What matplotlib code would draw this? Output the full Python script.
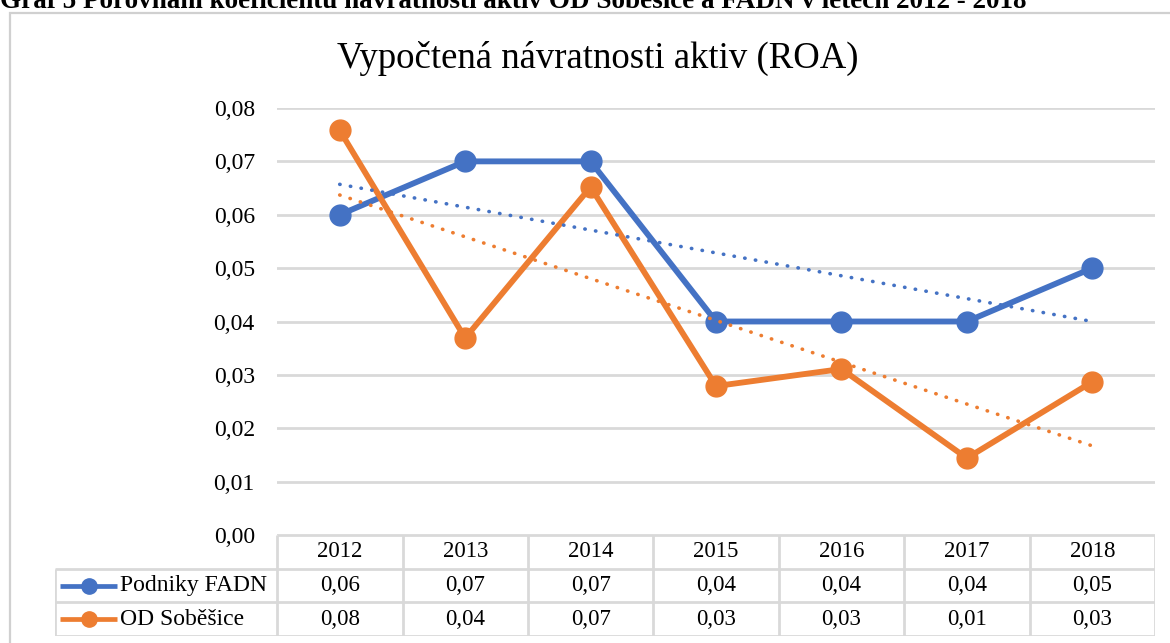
import matplotlib.pyplot as plt
from matplotlib.patches import Rectangle

# data
years = ["2012", "2013", "2014", "2015", "2016", "2017", "2018"]
fadn = [0.060, 0.070, 0.070, 0.040, 0.040, 0.040, 0.050]
sobesice = [0.0758, 0.0369, 0.0652, 0.0279, 0.0311, 0.0144, 0.0287]
# linear trend lines (start 2012, end 2018) as drawn in the source
trend_fadn = [0.0657, 0.0400]
trend_sobesice = [0.0637, 0.0167]
series_names = ["Podniky FADN", "OD Soběšice"]
yticks = [0.00, 0.01, 0.02, 0.03, 0.04, 0.05, 0.06, 0.07, 0.08]

caption = "Graf 5 Porovnání koeficientu návratnosti aktiv OD Soběšice a FADN v letech 2012 - 2018"
title = "Vypočtená návratnosti aktiv (ROA)"

BLUE = "#4472C4"
ORANGE = "#ED7D31"
GRID = "#D9D9D9"
SERIF = ["Liberation Serif", "DejaVu Serif"]

plt.rcParams["font.family"] = SERIF

W, H = 1170, 643
fig = plt.figure(figsize=(W / 100, H / 100), dpi=100)


def fx(px):
    return px / W


def fy(py):
    return 1 - py / H


# outer chart frame (runs off the right and bottom edges)
fig.patches.append(
    Rectangle((fx(10), fy(700)), fx(1300), fy(13) - fy(700), transform=fig.transFigure,
              fill=False, edgecolor="#D0D0D0", linewidth=1.6)
)

# cropped caption at the very top
fig.text(0.0, fy(8), caption, fontsize=19.5, fontweight="bold", va="baseline", ha="left")

fig.text(fx(598), fy(58), title, fontsize=26.5, ha="center", va="center")

# main plot
ax = fig.add_axes([fx(277), fy(535), fx(1155) - fx(277), fy(108) - fy(535)])
x = list(range(len(years)))

ax.plot(x, fadn, color=BLUE, lw=4.2, marker="o", ms=15, zorder=3)
ax.plot(x, sobesice, color=ORANGE, lw=4.2, marker="o", ms=15, zorder=4)
ax.plot([x[0], x[-1]], trend_fadn, color=BLUE, lw=2.6, linestyle=(0, (0.1, 2.9)),
        dash_capstyle="round", zorder=5)
ax.plot([x[0], x[-1]], trend_sobesice, color=ORANGE, lw=2.6, linestyle=(0, (0.1, 2.9)),
        dash_capstyle="round", zorder=5)

ax.set_xlim(-0.5, len(years) - 0.5)
ax.set_ylim(0, 0.08)
ax.set_yticks(yticks)
ax.set_yticklabels([f"{v:.2f}".replace(".", ",") for v in yticks], fontsize=17)
ax.tick_params(axis="y", length=0, pad=16)
ax.set_xticks([])
ax.yaxis.grid(True, color=GRID, lw=2)
ax.set_axisbelow(True)
for s in ax.spines.values():
    s.set_visible(False)

# data table below the plot
left_col = -0.5 - (277 - 55) / 125.3
tab = fig.add_axes([fx(55), fy(636), fx(1155) - fx(55), fy(535) - fy(636)])
tab.set_xlim(left_col, len(years) - 0.5)
tab.set_ylim(3, 0)
tab.axis("off")

lkw = dict(color=GRID, lw=2, solid_capstyle="butt")
# horizontal rules
tab.plot([-0.5, len(years) - 0.5], [0, 0], **lkw)
for r in (1, 2, 3):
    tab.plot([left_col, len(years) - 0.5], [r, r], **lkw)
# vertical rules
for c in range(len(years) + 1):
    tab.plot([c - 0.5, c - 0.5], [0, 3], **lkw)
tab.plot([left_col, left_col], [1, 3], **lkw)

for i, yr in enumerate(years):
    tab.text(i, 0.5, yr, ha="center", va="center", fontsize=16.5)

rows = [(fadn, BLUE), (sobesice, ORANGE)]
for r, ((vals, col), name) in enumerate(zip(rows, series_names)):
    yc = 1.5 + r
    for i, v in enumerate(vals):
        tab.text(i, yc, f"{v:.2f}".replace(".", ","), ha="center", va="center", fontsize=16.5)
    k0 = left_col + 0.04
    k1 = left_col + 0.495
    tab.plot([k0, k1], [yc, yc], color=col, lw=3.4, solid_capstyle="butt")
    tab.plot([(k0 + k1) / 2], [yc], color=col, marker="o", ms=11)
    tab.text(k1 + 0.02, yc, name, ha="left", va="center", fontsize=17)

fig.savefig("out.png", dpi=100)
